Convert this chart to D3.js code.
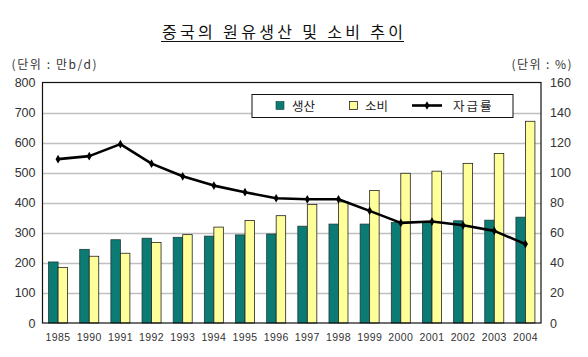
<!DOCTYPE html>
<html><head><meta charset="utf-8">
<script src="https://cdn.jsdelivr.net/npm/d3@7"></script>
<style>body{margin:0;background:#fff}svg{display:block}</style>
</head><body>
<svg id="c" width="588" height="357"></svg>
<script>
const years = ["1985","1990","1991","1992","1993","1994","1995","1996","1997","1998","1999","2000","2001","2002","2003","2004"];
const production = [203,245,277,282,285,289,293,296,322,329,329,334,334,340,342,352];
const consumption = [185,222,232,268,294,319,341,357,394,403,441,498,505,531,564,671];
const selfSufficiency = [109,111,119,106,97.6,91.4,87,83,82.3,82.3,74.6,66.6,67.5,65,61.3,52.5];
const leftTicks = [0,100,200,300,400,500,600,700,800];
const rightTicks = [0,20,40,60,80,100,120,140,160];

const svg = d3.select("#c");
const L = 42.5, R = 541, T = 82.5, B = 323;
const x = d3.scaleBand().domain(years).range([L, R]).paddingInner(0.39).paddingOuter(0.195);
const yL = d3.scaleLinear().domain([0, 800]).range([B, T]);
const yR = d3.scaleLinear().domain([0, 160]).range([B, T]);
const numFont = "'Liberation Sans', Arial, sans-serif";
const krFont = "'Noto Sans CJK KR', sans-serif";

// gridlines
svg.append("g").selectAll("line").data(leftTicks.slice(1, -1)).join("line")
  .attr("x1", L).attr("x2", R).attr("y1", d => Math.round(yL(d)) + 0.5).attr("y2", d => Math.round(yL(d)) + 0.5)
  .attr("stroke", "#c0c0c0").attr("stroke-width", 1.5);

// bars
const bw = x.bandwidth() / 2;
svg.append("g").selectAll("rect").data(years).join("rect")
  .attr("x", d => x(d)).attr("y", (d, i) => yL(production[i]))
  .attr("width", bw).attr("height", (d, i) => B - yL(production[i]))
  .attr("fill", "#0b7b74").attr("stroke", "#1d3b3a").attr("stroke-width", 0.8);
svg.append("g").selectAll("rect").data(years).join("rect")
  .attr("x", d => x(d) + bw).attr("y", (d, i) => yL(consumption[i]))
  .attr("width", bw).attr("height", (d, i) => B - yL(consumption[i]))
  .attr("fill", "#ffff99").attr("stroke", "#222").attr("stroke-width", 0.8);

// plot border
svg.append("rect").attr("x", L).attr("y", T).attr("width", R - L).attr("height", B - T)
  .attr("fill", "none").attr("stroke", "#111").attr("stroke-width", 1.2);

// line
const cx = d => x(d) + x.bandwidth() / 2;
const line = d3.line().x((d, i) => cx(years[i])).y(d => yR(d));
svg.append("path").datum(selfSufficiency).attr("d", line)
  .attr("fill", "none").attr("stroke", "#000").attr("stroke-width", 2.6).attr("stroke-linejoin", "round");
svg.append("g").selectAll("path").data(selfSufficiency).join("path")
  .attr("transform", (d, i) => `translate(${cx(years[i])},${yR(d)})`)
  .attr("d", d3.symbol(d3.symbolDiamond, 22)).attr("fill", "#000");

// axes
const axL = svg.append("g").attr("transform", `translate(${L},0)`)
  .call(d3.axisLeft(yL).tickValues(leftTicks).tickSize(0).tickPadding(7));
const axR = svg.append("g").attr("transform", `translate(${R},0)`)
  .call(d3.axisRight(yR).tickValues(rightTicks).tickSize(0).tickPadding(9));
const axB = svg.append("g").attr("transform", `translate(0,${B})`)
  .call(d3.axisBottom(x).tickSize(0).tickPadding(11));
[axL, axR, axB].forEach(a => {
  a.select(".domain").remove();
  a.selectAll("text").attr("font-family", numFont).attr("fill", "#333");
});
axL.selectAll("text").attr("font-size", 12.5);
axR.selectAll("text").attr("font-size", 12.5);
axB.selectAll("text").attr("font-size", 10.5).attr("letter-spacing", "0.4px");

// title
svg.append("text").attr("x", 162).attr("y", 38)
  .attr("font-family", krFont).attr("font-size", 16).attr("fill", "#111")
  .attr("textLength", 241).attr("lengthAdjust", "spacing").text("중국의 원유생산 및 소비 추이");
svg.append("line").attr("x1", 161).attr("x2", 404).attr("y1", 41.5).attr("y2", 41.5)
  .attr("stroke", "#111").attr("stroke-width", 1);

// units
svg.append("text").attr("x", 11.5).attr("y", 68.5).attr("font-family", krFont).attr("font-size", 12)
  .attr("fill", "#333").attr("textLength", 85).attr("lengthAdjust", "spacing").text("(단위 : 만b/d)");
svg.append("text").attr("x", 511.5).attr("y", 68.5).attr("font-family", krFont)
  .attr("font-size", 12).attr("fill", "#333").attr("textLength", 60).attr("lengthAdjust", "spacing").text("(단위 : %)");

// legend
const lg = svg.append("g");
lg.append("rect").attr("x", 252).attr("y", 94.5).attr("width", 261).attr("height", 23)
  .attr("fill", "#fff").attr("stroke", "#111").attr("stroke-width", 1);
lg.append("rect").attr("x", 276).attr("y", 101.5).attr("width", 8).attr("height", 8)
  .attr("fill", "#0b7b74").attr("stroke", "#1d3b3a").attr("stroke-width", 0.6);
lg.append("text").attr("x", 292).attr("y", 111).attr("font-family", krFont).attr("font-size", 12.5).attr("fill", "#222").text("생산");
lg.append("rect").attr("x", 349.5).attr("y", 101.5).attr("width", 8).attr("height", 8)
  .attr("fill", "#ffff99").attr("stroke", "#222").attr("stroke-width", 0.8);
lg.append("text").attr("x", 365).attr("y", 111).attr("font-family", krFont).attr("font-size", 12.5).attr("fill", "#222").text("소비");
lg.append("line").attr("x1", 412).attr("x2", 442).attr("y1", 105.5).attr("y2", 105.5).attr("stroke", "#000").attr("stroke-width", 2.6);
lg.append("path").attr("transform", "translate(427,105.5)").attr("d", d3.symbol(d3.symbolDiamond, 22)).attr("fill", "#000");
lg.append("text").attr("x", 453).attr("y", 111).attr("font-family", krFont).attr("font-size", 12.5).attr("fill", "#222")
  .attr("letter-spacing", "2px").text("자급률");
</script>
</body></html>
